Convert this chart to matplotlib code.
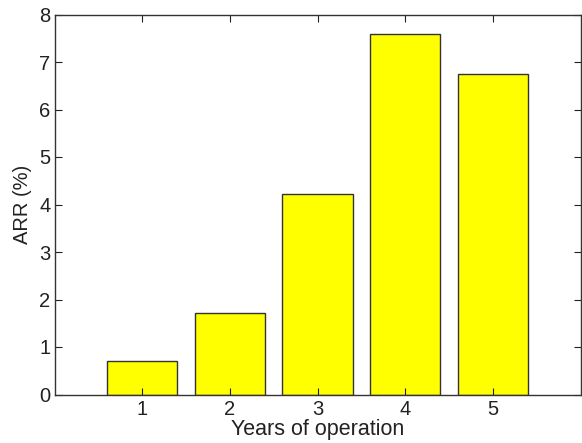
import matplotlib
matplotlib.use("Agg")
import matplotlib.pyplot as plt

plt.rcParams['font.family'] = ['Liberation Sans', 'DejaVu Sans']

years = [1, 2, 3, 4, 5]
arr_values = [0.70, 1.71, 4.23, 7.58, 6.75]
y_ticks = [0, 1, 2, 3, 4, 5, 6, 7, 8]

fig = plt.figure(figsize=(5.82, 4.43), dpi=100)
W, H = 582, 443
left, right, top, bottom = 54.5, 580.5, 14.5, 394.5
ax = fig.add_axes([left / W, 1 - bottom / H, (right - left) / W, (bottom - top) / H])

ax.bar(years, arr_values, width=0.8, color='#ffff00', edgecolor='#333333', linewidth=1.0)
ax.set_xlim(0, 6)
ax.set_ylim(0, 8)
ax.set_xticks(years)
ax.set_yticks(y_ticks)
ax.tick_params(direction='in', top=True, right=True, length=5, width=0.8,
               labelsize=14.5, colors='#222222')
ax.tick_params(axis='x', pad=4)
ax.tick_params(axis='y', pad=3)
for s in ax.spines.values():
    s.set_color('#333333')
    s.set_linewidth(1.0)
ax.set_xlabel('Years of operation', fontsize=15.5, labelpad=0, color='#222222')
ax.set_ylabel('ARR (%)', fontsize=14.5, labelpad=5, color='#222222')

fig.savefig('out.png', dpi=100)
